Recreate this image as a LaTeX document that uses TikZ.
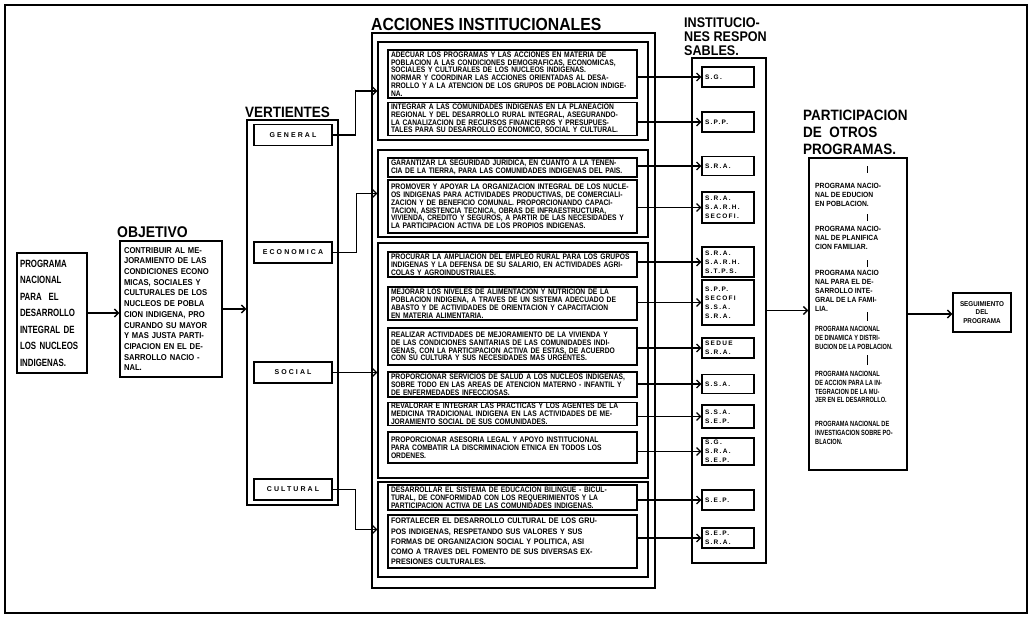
\documentclass[tikz,border=0pt]{standalone}
\usepackage{fontspec}
\setmainfont[FakeStretch=0.9]{Liberation Sans}
\newfontfamily\cndfont[FakeStretch=0.75]{Liberation Sans}
\newfontfamily\itfont[FakeStretch=0.84]{Liberation Sans}
\newfontfamily\vfont[LetterSpace=30]{Liberation Sans}
\newfontfamily\ifont[LetterSpace=20]{Liberation Sans}
\usetikzlibrary{arrows.meta}

\begin{document}
\begin{tikzpicture}[x=1pt, y=-1pt,
    outbox/.style={draw, line width=1.4pt, inner sep=0pt},
    grpbox/.style={draw, line width=1.1pt, minimum width=270, inner sep=0pt},
    itembox/.style={draw, line width=1.1pt, text width=243, inner xsep=3pt, inner ysep=1pt,
        align=left, font=\itfont\fontsize{8}{7.8}\selectfont\bfseries},
    vbox/.style={draw, line width=1.1pt, minimum width=78, minimum height=21,
        font=\vfont\fontsize{7}{7}\selectfont\bfseries},
    ibox/.style={draw, line width=1.1pt, text width=46, inner xsep=3pt, inner ysep=1pt,
        align=left, font=\ifont\fontsize{6.5}{9}\selectfont\bfseries},
    ttl/.style={anchor=south west, inner sep=0pt, align=left, font=\bfseries},
    ptxt/.style={anchor=north west, inner sep=0pt, align=left,
        font=\fontsize{7.5}{9}\selectfont\bfseries},
    ptxtc/.style={anchor=north west, inner sep=0pt, align=left,
        font=\cndfont\fontsize{7.5}{8.8}\selectfont\bfseries},
    arr/.style={-{Straight Barb[length=4pt,width=8pt]}, line width=1.3pt},
  ]
  \useasboundingbox (0,0) rectangle (1032,619);
  \draw[line width=2pt] (5,5) rectangle (1027,613);

  % programa
  \node[outbox, text width=64, inner xsep=3pt, minimum height=120, align=left,
        font=\cndfont\fontsize{10.5}{16.5}\selectfont\bfseries] (pn) at (52,313)
    {PROGRAMA\\NACIONAL\\PARA \ EL\\DESARROLLO\\INTEGRAL DE\\LOS NUCLEOS\\INDIGENAS.};

  % objetivo
  \node[ttl, font=\fontsize{15.5}{16}\selectfont\bfseries] (tobj) at (117,238) {OBJETIVO};
  \node[outbox, text width=94, inner xsep=4pt, minimum height=136, align=left,
        font=\fontsize{8.5}{10.7}\selectfont\bfseries] (obj) at (171,309)
    {CONTRIBUIR AL ME-\\JORAMIENTO DE LAS\\CONDICIONES ECONO\\MICAS, SOCIALES Y\\CULTURALES DE LOS\\NUCLEOS DE POBLA\\CION INDIGENA, PRO\\CURANDO SU MAYOR\\Y MAS JUSTA PARTI-\\CIPACION EN EL DE-\\SARROLLO NACIO -\\NAL.};

  % vertientes
  \node[ttl, font=\fontsize{15}{16}\selectfont\bfseries] (tver) at (245,118) {VERTIENTES};
  \node[outbox, minimum width=91, minimum height=385] (ver) at (292.5,312.5) {};
  \node[vbox] (gen) at (293,135) {GENERAL};
  \node[vbox] (eco) at (293,252.5) {ECONOMICA};
  \node[vbox] (soc) at (293,372.5) {SOCIAL};
  \node[vbox] (cul) at (293,489.5) {CULTURAL};

  % acciones institucionales
  \node[ttl, font=\fontsize{17.5}{18}\selectfont\bfseries] (tacc) at (371,31) {ACCIONES INSTITUCIONALES};
  \node[outbox, minimum width=283, minimum height=555] (acc) at (513.5,310.5) {};
  \node[grpbox, minimum height=98] (g1) at (513,91) {};
  \node[grpbox, minimum height=87] (g2) at (513,193.5) {};
  \node[grpbox, minimum height=235] (g3) at (513,360.5) {};
  \node[grpbox, minimum height=95] (g4) at (513,529.5) {};

  \node[itembox, minimum height=48] (a1) at (512.5,74)
    {ADECUAR LOS PROGRAMAS Y LAS ACCIONES EN MATERIA DE\\POBLACION A LAS CONDICIONES DEMOGRAFICAS, ECONOMICAS,\\SOCIALES Y CULTURALES DE LOS NUCLEOS INDIGENAS.\\NORMAR Y COORDINAR LAS ACCIONES ORIENTADAS AL DESA-\\RROLLO Y A LA ATENCION DE LOS GRUPOS DE POBLACION INDIGE-\\NA.};
  \node[itembox, minimum height=30] (a2) at (512.5,119)
    {INTEGRAR A LAS COMUNIDADES INDIGENAS EN LA PLANEACION\\REGIONAL Y DEL DESARROLLO RURAL INTEGRAL, ASEGURANDO-\\LA CANALIZACION DE RECURSOS FINANCIEROS Y PRESUPUES-\\TALES PARA SU DESARROLLO ECONOMICO, SOCIAL Y CULTURAL.};
  \node[itembox, minimum height=19] (b1) at (512.5,167.5)
    {GARANTIZAR LA SEGURIDAD JURIDICA, EN CUANTO A LA TENEN-\\CIA DE LA TIERRA, PARA LAS COMUNIDADES INDIGENAS DEL PAIS.};
  \node[itembox, minimum height=53] (b2) at (512.5,206.5)
    {PROMOVER Y APOYAR LA ORGANIZACION INTEGRAL DE LOS NUCLE-\\OS INDIGENAS PARA ACTIVIDADES PRODUCTIVAS, DE COMERCIALI-\\ZACION Y DE BENEFICIO COMUNAL. PROPORCIONANDO CAPACI-\\TACION, ASISTENCIA TECNICA, OBRAS DE INFRAESTRUCTURA,\\VIVIENDA, CREDITO Y SEGUROS, A PARTIR DE LAS NECESIDADES Y\\LA PARTICIPACION ACTIVA DE LOS PROPIOS INDIGENAS.};
  \node[itembox, minimum height=25] (c1) at (512.5,264.5)
    {PROCURAR LA AMPLIACION DEL EMPLEO RURAL PARA LOS GRUPOS\\INDIGENAS Y LA DEFENSA DE SU SALARIO, EN ACTIVIDADES AGRI-\\COLAS Y AGROINDUSTRIALES.};
  \node[itembox, minimum height=33] (c2) at (512.5,303.5)
    {MEJORAR LOS NIVELES DE ALIMENTACION Y NUTRICION DE LA\\POBLACION INDIGENA, A TRAVES DE UN SISTEMA ADECUADO DE\\ABASTO Y DE ACTIVIDADES DE ORIENTACION Y CAPACITACION\\EN MATERIA ALIMENTARIA.};
  \node[itembox, minimum height=37] (c3) at (512.5,346.5)
    {REALIZAR ACTIVIDADES DE MEJORAMIENTO DE LA VIVIENDA Y\\DE LAS CONDICIONES SANITARIAS DE LAS COMUNIDADES INDI-\\GENAS, CON LA PARTICIPACION ACTIVA DE ESTAS, DE ACUERDO\\CON SU CULTURA Y SUS NECESIDADES MAS URGENTES.};
  \node[itembox, minimum height=25] (c4) at (512.5,384.5)
    {PROPORCIONAR SERVICIOS DE SALUD A LOS NUCLEOS INDIGENAS,\\SOBRE TODO EN LAS AREAS DE ATENCION MATERNO - INFANTIL Y\\DE ENFERMEDADES INFECCIOSAS.};
  \node[itembox, minimum height=22] (c5) at (512.5,414)
    {REVALORAR E INTEGRAR LAS PRACTICAS Y LOS AGENTES DE LA\\MEDICINA TRADICIONAL INDIGENA EN LAS ACTIVIDADES DE ME-\\JORAMIENTO SOCIAL DE SUS COMUNIDADES.};
  \node[itembox, minimum height=31] (c6) at (512.5,447.5)
    {PROPORCIONAR ASESORIA LEGAL Y APOYO INSTITUCIONAL\\PARA COMBATIR LA DISCRIMINACION ETNICA EN TODOS LOS\\ORDENES.};
  \node[itembox, minimum height=25] (d1) at (512.5,497.5)
    {DESARROLLAR EL SISTEMA DE EDUCACION BILINGUE - BICUL-\\TURAL, DE CONFORMIDAD CON LOS REQUERIMIENTOS Y LA\\PARTICIPACION ACTIVA DE LAS COMUNIDADES INDIGENAS.};
  \node[itembox, minimum height=53, font=\fontsize{8}{10.2}\selectfont\bfseries] (d2) at (512.5,541.5)
    {FORTALECER EL DESARROLLO CULTURAL DE LOS GRU-\\POS INDIGENAS, RESPETANDO SUS VALORES Y SUS\\FORMAS DE ORGANIZACION SOCIAL Y POLITICA, ASI\\COMO A TRAVES DEL FOMENTO DE SUS DIVERSAS EX-\\PRESIONES CULTURALES.};

  % instituciones responsables
  \node[ttl, font=\fontsize{14}{14}\selectfont\bfseries] (tins) at (684,56) {INSTITUCIO-\\NES RESPON\\SABLES.};
  \node[outbox, minimum width=74, minimum height=505] (ins) at (729,310.5) {};
  \node[ibox, minimum height=20] (sg) at (728,77) {S.G.};
  \node[ibox, minimum height=20] (spp) at (728,122) {S.P.P.};
  \node[ibox, minimum height=19] (sra) at (728,166) {S.R.A.};
  \node[ibox, minimum height=31] (i4) at (728,207.5) {S.R.A.\\S.A.R.H.\\SECOFI.};
  \node[ibox, minimum height=30] (i5) at (728,262) {S.R.A.\\S.A.R.H.\\S.T.P.S.};
  \node[ibox, minimum height=45] (i6) at (728,302.5) {S.P.P.\\SECOFI\\S.S.A.\\S.R.A.};
  \node[ibox, minimum height=20] (i7) at (728,348) {SEDUE\\S.R.A.};
  \node[ibox, minimum height=19] (i8) at (728,384) {S.S.A.};
  \node[ibox, minimum height=23] (i9) at (728,416.5) {S.S.A.\\S.E.P.};
  \node[ibox, minimum height=27] (i10) at (728,451.5) {S.G.\\S.R.A.\\S.E.P.};
  \node[ibox, minimum height=20] (i11) at (728,500) {S.E.P.};
  \node[ibox, minimum height=20] (i12) at (728,538) {S.E.P.\\S.R.A.};

  % participacion de otros programas
  \node[ttl, font=\fontsize{15}{17}\selectfont\bfseries] (tpar) at (803,155) {PARTICIPACION\\DE\ \ OTROS\\PROGRAMAS.};
  \node[outbox, minimum width=98, minimum height=312] (par) at (858,314) {};
  \node[ptxt] (p1) at (815,183) {PROGRAMA NACIO-\\NAL DE EDUCION\\EN POBLACION.};
  \node[ptxt] (p2) at (815,226) {PROGRAMA NACIO-\\NAL DE PLANIFICA\\CION FAMILIAR.};
  \node[ptxt] (p3) at (815,270) {PROGRAMA NACIO\\NAL PARA EL DE-\\SARROLLO INTE-\\GRAL DE LA FAMI-\\LIA.};
  \node[ptxtc] (p4) at (815,326) {PROGRAMA NACIONAL\\DE DINAMICA Y DISTRI-\\BUCION DE LA POBLACION.};
  \node[ptxtc] (p5) at (815,371) {PROGRAMA NACIONAL\\DE ACCION PARA LA IN-\\TEGRACION DE LA MU-\\JER EN EL DESARROLLO.};
  \node[ptxtc] (p6) at (815,421) {PROGRAMA NACIONAL DE\\INVESTIGACION SOBRE PO-\\BLACION.};
  \foreach \ya/\yb in {166/173, 214/221, 260/267, 312/321, 355/365}
    \draw[line width=0.8pt] (867,\ya) -- (867,\yb);

  \node[outbox, minimum width=58, minimum height=39, align=center,
        font=\fontsize{7}{8.5}\selectfont\bfseries] (seg) at (982,312.5) {SEGUIMIENTO\\DEL\\PROGRAMA};

  % conectores
  \draw[arr] (pn.east) -- (pn.east -| obj.west);
  \draw[arr] (obj.east) -- (obj.east -| ver.west);
  \draw[arr] (gen.east) -- ++(23,0) |- (g1.west);
  \draw[arr] (eco.east) -- ++(24,0) |- (g2.west);
  \draw[arr] (soc.east) -- (soc.east -| g3.west);
  \draw[arr] (cul.east) -- ++(23,0) |- (g4.west);
  \foreach \a/\b in {a1/sg, a2/spp, b1/sra, b2/i4, c1/i5, c2/i6, c3/i7, c4/i8, c5/i9, c6/i10, d1/i11, d2/i12}
    \draw[arr] (\a.east |- \b.west) -- (\b.west);
  \draw[arr] (ins.east) -- (ins.east -| par.west);
  \draw[arr] (par.east) -- (par.east -| seg.west);
\end{tikzpicture}
\end{document}
